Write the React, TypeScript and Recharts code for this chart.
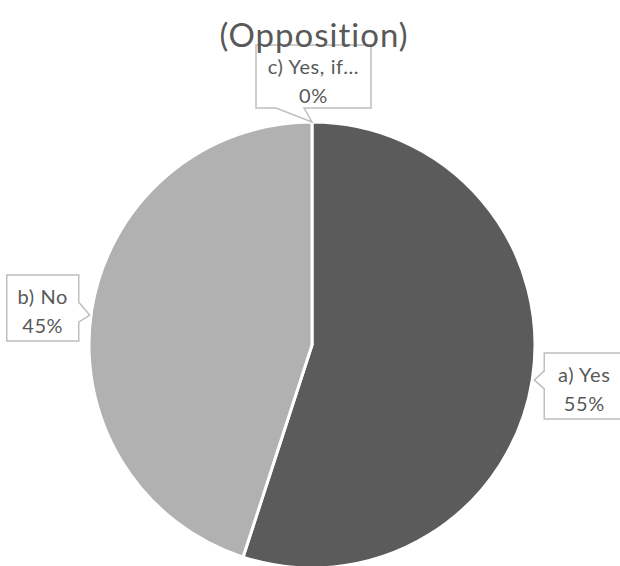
import { PieChart, Pie, Cell } from 'recharts'

const categories = ['a) Yes', 'b) No', 'c) Yes, if...']
const shares = [55, 45, 0]
const colors = ['#5b5b5b', '#b1b1b1', '#8a8a8a']

const data = categories.map((name, i) => ({ name, value: shares[i] }))

const RAD = Math.PI / 180
const FONT = 'Lato, "Open Sans", sans-serif'

function Callout(props: any) {
  const { cx, cy, midAngle, outerRadius, index } = props
  const ax = cx + outerRadius * Math.cos(-midAngle * RAD)
  const ay = cy + outerRadius * Math.sin(-midAngle * RAD)
  const name = categories[index]
  const pct = `${shares[index]}%`
  let x = 0
  let y = 0
  let w = 0
  let h = 0
  let path = ''
  if (index === 2) {
    // top label, pointer goes down
    w = 115
    h = 63
    x = ax - 56
    y = ay - 77
    const b = y + h
    path = `M${x},${y} H${x + w} V${b} H${ax - 8} L${ax},${ay} L${ax - 36},${b} H${x} Z`
  } else if (ax > cx) {
    // right side, pointer goes left
    w = 80
    h = 66
    x = ax + 12
    y = ay - 27
    path = `M${x},${y} H${x + w} V${y + h} H${x} V${ay + 9} L${ax + 2},${ay} L${x},${ay - 9} Z`
  } else {
    // left side, pointer goes right
    w = 72
    h = 66
    x = ax - 85
    y = ay - 35
    const r = x + w
    path = `M${x},${y} H${r} V${ay - 8} L${ax - 2},${ay + 5} L${r},${ay + 12} V${y + h} H${x} Z`
  }
  const ts = {
    fill: '#595959',
    fontSize: 20,
    fontFamily: FONT,
    letterSpacing: 0.6,
    fontVariantLigatures: 'none' as const,
  }
  return (
    <g>
      <path d={path} fill="#ffffff" stroke="#bfbfbf" strokeWidth={1.5} />
      <text x={x + w / 2} y={y + 29} textAnchor="middle" style={ts}>
        {name}
      </text>
      <text x={x + w / 2} y={y + 58} textAnchor="middle" style={ts}>
        {pct}
      </text>
    </g>
  )
}

export default function App() {
  return (
    <div style={{ position: 'absolute', left: 0, top: 0, width: 620, height: 566, background: '#fff', overflow: 'hidden' }}>
      <PieChart
        width={620}
        height={566}
        margin={{ top: 0, right: 0, bottom: 0, left: 0 }}
        style={{ position: 'absolute', left: 0, top: 0 }}
      >
        <Pie
          data={data}
          dataKey="value"
          cx={312}
          cy={345}
          outerRadius={223}
          startAngle={90}
          endAngle={-270}
          stroke="#ffffff"
          strokeWidth={3}
          label={Callout}
          labelLine={false}
          isAnimationActive={false}
        >
          {data.map((d, i) => (
            <Cell key={d.name} fill={colors[i]} />
          ))}
        </Pie>
      </PieChart>
      <div
        style={{
          position: 'absolute',
          left: 0,
          top: 15,
          width: 628,
          textAlign: 'center',
          fontFamily: FONT,
          fontSize: 33,
          letterSpacing: 1,
          fontVariantLigatures: 'none',
          color: '#595959',
          lineHeight: '38px',
          pointerEvents: 'none',
        }}
      >
        (Opposition)
      </div>
    </div>
  )
}
